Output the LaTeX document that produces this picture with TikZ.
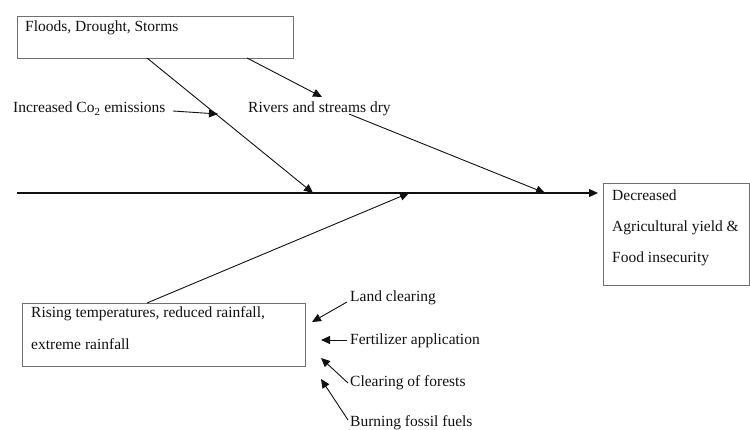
\documentclass[tikz,border=0pt]{standalone}
\usepackage{fontspec}
\setmainfont{Liberation Serif}
\usetikzlibrary{arrows.meta,positioning}
\definecolor{framec}{HTML}{707070}
\definecolor{inkc}{HTML}{111111}
\tikzset{
  ar/.style={-{Triangle[length=9pt,width=8pt]},line width=0.9pt,inkc},
  box/.style={draw=framec,line width=0.8pt,anchor=north west,inner sep=0pt},
  lbl/.style={anchor=base west,inner sep=0pt,text=inkc,font=\fontsize{15.5}{18}\selectfont}
}

\begin{document}
\begin{tikzpicture}[x=1pt,y=-1pt]
\useasboundingbox (0,0) rectangle (750,430);
% boxes
\node[box,minimum width=276,minimum height=42] (flood) at (17,16) {};
\node[box,minimum width=146,minimum height=102] (res) at (603,183) {};
\node[box,minimum width=283,minimum height=63] (rise) at (22,303) {};
\node[lbl] (floodt) at (25,32) {Floods, Drought, Storms};
\node[lbl] (res1) at (612,201) {Decreased};
\node[lbl] (res2) at (612,232) {Agricultural yield \&};
\node[lbl] (res3) at (612,263) {Food insecurity};
\node[lbl] (rise1) at (31,318) {Rising temperatures, reduced rainfall,};
\node[lbl] (rise2) at (31,350) {extreme rainfall};
% labels
\node[lbl] (co2) at (13,113) {Increased Co\textsubscript{2} emissions};
\node[lbl] (dry) at (248,113) {Rivers and streams dry};
\node[lbl] (land) at (350,302) {Land clearing};
\node[lbl] (fert) at (350,345) {Fertilizer application};
\node[lbl] (forest) at (350,387) {Clearing of forests};
\node[lbl] (fuel) at (350,426) {Burning fossil fuels};
% spine
\coordinate (tail) at (17,193);
\coordinate (s1) at (313,193);
\coordinate (s2) at (409,193);
\coordinate (s3) at (545,193);
\draw[ar,line width=1.1pt] (tail) -- ([xshift=-5pt]res.west |- tail);
% bones
\coordinate (f1) at (147,58);
\coordinate (f2) at (247,58);
\coordinate (r1) at (147,303);
\draw[ar] (f1) -- (s1);
\draw[ar] (f2) -- (322,97);
\draw[ar] (173,111) -- (218,114);
\draw[ar] (349,114) -- (s3);
\draw[ar] (r1) -- (s2);
% causes
\draw[ar] (347,302) -- (312,322);
\draw[ar] (347,340) -- (321,340);
\draw[ar] (348,383) -- (321,358);
\draw[ar] (348,420) -- (321,379);
\end{tikzpicture}
\end{document}
